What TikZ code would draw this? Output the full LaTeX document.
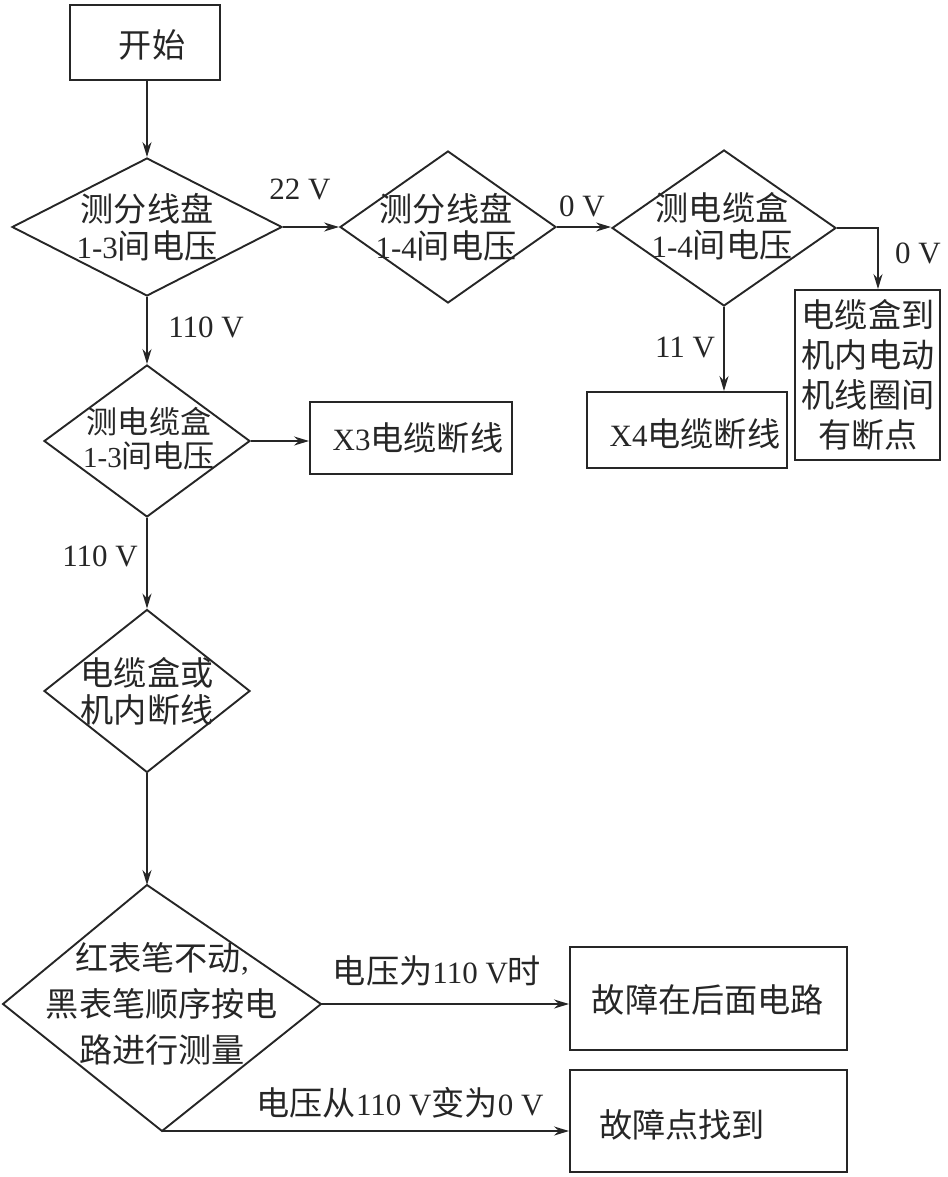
\documentclass[tikz,border=0pt]{standalone}
\usepackage{fontspec}
\setmainfont{Liberation Serif}
\newfontfamily\cjk[Scale=1.07]{Noto Sans CJK SC}
\newcommand\zh[1]{{\cjk #1}}
\usetikzlibrary{shapes.geometric,arrows.meta}
\tikzset{
  base/.style={draw=black!85, line width=1.9pt},
  box/.style={base, rectangle, inner sep=0pt},
  dia/.style={base, diamond, inner sep=0pt},
  txt/.style={align=center, inner sep=0pt},
  arr/.style={line width=1.9pt, draw=black!85, -{Stealth[length=15pt,width=9pt]}},
  lab/.style={inner sep=0pt},
  every node/.style={font=\fontsize{31}{37}\selectfont, text=black!85}
}
\begin{document}
\begin{tikzpicture}[x=1pt,y=-1pt]
\useasboundingbox (0,0) rectangle (947,1177);
% boxes
\node[box, minimum width=150pt, minimum height=75pt] (start) at (145,42.5) {};
\node[txt] (startt) at (152,45) {\zh{开始}};
\node[dia, minimum width=270pt, minimum height=138pt] (d1) at (147,227) {};
\node[txt] (d1t) at (147,227) {\zh{测分线盘}\\1-3\zh{间电压}};
\node[dia, minimum width=216pt, minimum height=152pt] (d2) at (448,227) {};
\node[txt] (d2t) at (446,227) {\zh{测分线盘}\\1-4\zh{间电压}};
\node[dia, minimum width=224pt, minimum height=156pt] (d3) at (724,228) {};
\node[txt] (d3t) at (722,226) {\zh{测电缆盒}\\1-4\zh{间电压}};
\node[box, minimum width=145pt, minimum height=170pt] (R) at (867.5,375) {};
\node[txt, font=\fontsize{31}{40}\selectfont] (Rt) at (868,375) {\zh{电缆盒到}\\\zh{机内电动}\\\zh{机线圈间}\\\zh{有断点}};
\node[box, minimum width=200pt, minimum height=76pt] (x4) at (687,430) {};
\node[txt] (x4t) at (695,434) {X4\zh{电缆断线}};
\node[dia, minimum width=206pt, minimum height=152pt] (d4) at (147,441) {};
\node[txt, font=\fontsize{29}{34}\selectfont] (d4t) at (149,439) {\zh{测电缆盒}\\1-3\zh{间电压}};
\node[box, minimum width=202pt, minimum height=72pt] (x3) at (411,438) {};
\node[txt] (x3t) at (418,438) {X3\zh{电缆断线}};
\node[dia, minimum width=206pt, minimum height=163pt] (d5) at (147,691) {};
\node[txt] (d5t) at (147,691) {\zh{电缆盒或}\\\zh{机内断线}};
\coordinate (d6t) at (147,885);
\coordinate (d6r) at (321,1004);
\coordinate (d6b) at (162,1131);
\coordinate (d6l) at (3,1004);
\draw[base] (d6t) -- (d6r) -- (d6b) -- (d6l) -- cycle;
\node[txt, font=\fontsize{31}{46}\selectfont] (d6tx) at (162,1004) {\zh{红表笔不动},\\\zh{黑表笔顺序按电}\\\zh{路进行测量}};
\node[box, minimum width=277pt, minimum height=103pt] (f1) at (708.5,998.5) {};
\node[txt] (f1t) at (708,1000) {\zh{故障在后面电路}};
\node[box, minimum width=277pt, minimum height=102pt] (f2) at (708.5,1121) {};
\node[txt] (f2t) at (682,1125) {\zh{故障点找到}};
% connectors
\draw[arr] (d1.north |- start.south) -- (d1.north);
\draw[arr] (d1.east) -- (d2.west);
\node[lab] (l22) at (300,189) {22 V};
\draw[arr] (d2.east) -- (d2.east -| d3.west);
\node[lab] (l0a) at (582,206) {0 V};
\coordinate (c1) at (878,228);
\draw[arr] (d3.east) -- (c1) -- (c1 |- R.north);
\node[lab] (l0b) at (918,253) {0 V};
\draw[arr] (d3.south) -- (d3.south |- x4.north);
\node[lab] (l11) at (685,347) {11 V};
\draw[arr] (d1.south) -- (d4.north);
\node[lab] (l110a) at (206,327) {110 V};
\draw[arr] (d4.east) -- (d4.east -| x3.west);
\draw[arr] (d4.south) -- (d5.north);
\node[lab] (l110b) at (100,556) {110 V};
\draw[arr] (d5.south) -- (d6t);
\draw[arr] (d6r) -- (d6r -| f1.west);
\node[lab] (lf1) at (437,971) {\zh{电压为}110 V\zh{时}};
\draw[arr] (d6b) -- (d6b -| f2.west);
\node[lab] (lf2) at (400,1103) {\zh{电压从}110 V\zh{变为}0 V};
\end{tikzpicture}
\end{document}
